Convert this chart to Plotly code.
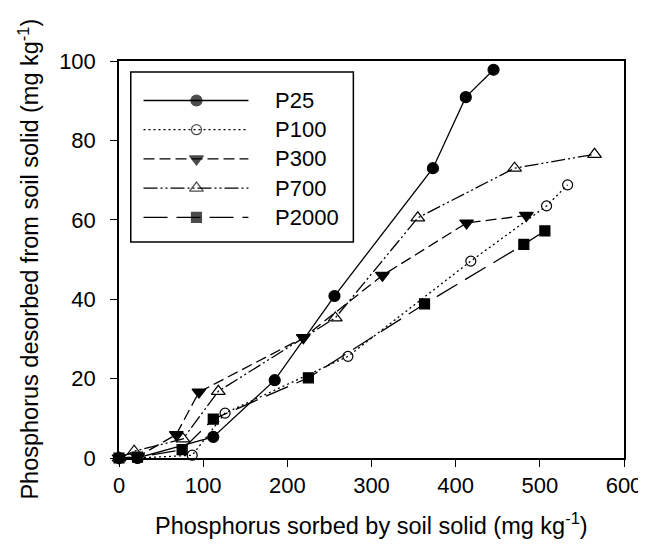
import plotly.graph_objects as go

# ---- Data ----
p25_x = [0, 22, 112, 185, 256, 373, 412, 445]
p25_y = [0, 0, 5.3, 19.6, 40.8, 73.0, 90.9, 97.8]

p100_x = [0, 22, 87, 126, 272, 418, 508, 533]
p100_y = [0, 0, 0.7, 11.3, 25.6, 49.6, 63.5, 68.8]

p300_x = [0, 22, 68, 95, 219, 313, 413, 484]
p300_y = [0, 0.3, 5.9, 16.6, 30.3, 46.0, 59.2, 61.1]

p700_x = [0, 18, 76, 118, 257, 355, 470, 565]
p700_y = [0, 1.7, 4.8, 16.8, 35.3, 60.5, 73.0, 76.5]

p2000_x = [0, 22, 75, 112, 225, 363, 481, 506]
p2000_y = [0, 0.2, 2.1, 9.8, 20.2, 38.8, 53.8, 57.2]

series_names = ["P25", "P100", "P300", "P700", "P2000"]
x_ticks = [0, 100, 200, 300, 400, 500, 600]
y_ticks = [0, 20, 40, 60, 80, 100]

# ---- Styles ----
FONT = "Liberation Sans, Arial, sans-serif"
W, H = 646, 547
ML, MR, MT, MB = 111, 20, 53, 97
PW, PH = W - ML - MR, H - MT - MB

styles = {
    "P25":   dict(dash="solid", symbol="circle", size=11),
    "P100":  dict(dash="2px,3px", symbol="circle-open", size=10),
    "P300":  dict(dash="11px,5px", symbol="triangle-down", size=12),
    "P700":  dict(dash="14px,3px,2px,3px,2px,3px", symbol="triangle-up-open", size=12),
    "P2000": dict(dash="24px,9px", symbol="square", size=10),
}
data = {
    "P25": (p25_x, p25_y),
    "P100": (p100_x, p100_y),
    "P300": (p300_x, p300_y),
    "P700": (p700_x, p700_y),
    "P2000": (p2000_x, p2000_y),
}

fig = go.Figure()
for name in series_names:
    xs, ys = data[name]
    st = styles[name]
    fig.add_trace(go.Scatter(
        x=xs, y=ys, name=name, mode="lines+markers", showlegend=False,
        line=dict(color="black", width=1.3, dash=st["dash"]),
        marker=dict(symbol=st["symbol"], size=st["size"], color="black",
                    line=dict(color="black", width=1.2)),
        cliponaxis=False,
    ))

# ---- Custom legend (layout positions in plot-area pixels, via hidden overlay axes) ----
LEG_BOX = (12, 11, 239, 181)      # left, top, right, bottom
LEG_ROW0, LEG_STEP = 39.5, 29.2
LEG_LINE = (25, 79, 132)          # line start, marker, line end
LEG_TEXT_X = 157

annotations = []
for i, name in enumerate(series_names):
    st = styles[name]
    ry = LEG_ROW0 + i * LEG_STEP
    fig.add_trace(go.Scatter(
        x=list(LEG_LINE), y=[ry] * 3, xaxis="x2", yaxis="y2",
        mode="lines+markers", showlegend=False, hoverinfo="skip",
        line=dict(color="black", width=1.3, dash=st["dash"]),
        marker=dict(symbol=st["symbol"], size=[0, st["size"], 0], color="black",
                    line=dict(color="black", width=1.2)),
        cliponaxis=False,
    ))
    annotations.append(dict(
        text=name, xref="x2", yref="y2", x=LEG_TEXT_X, y=ry,
        xanchor="left", yanchor="middle", showarrow=False,
        font=dict(family=FONT, size=22, color="black"),
    ))

axis_common = dict(
    showline=True, linecolor="black", linewidth=1.5, mirror=True,
    ticks="outside", ticklen=7, tickwidth=1.3, tickcolor="black",
    showgrid=False, zeroline=False,
    tickfont=dict(family=FONT, size=22, color="black"),
)

fig.update_layout(
    xaxis=dict(range=[0, 600], tickvals=x_ticks, **axis_common),
    yaxis=dict(range=[0, 100], tickvals=y_ticks, ticklabelstandoff=10, **axis_common),
    xaxis2=dict(overlaying="x", range=[0, PW], visible=False, fixedrange=True),
    yaxis2=dict(overlaying="y", range=[PH, 0], visible=False, fixedrange=True),
    width=W, height=H,
    margin=dict(l=ML, r=MR, t=MT, b=MB),
    paper_bgcolor="white", plot_bgcolor="white",
    font=dict(family=FONT, size=22, color="black"),
    showlegend=False,
    shapes=[dict(type="rect", xref="x2", yref="y2",
                 x0=LEG_BOX[0], y0=LEG_BOX[1], x1=LEG_BOX[2], y1=LEG_BOX[3],
                 line=dict(color="black", width=1.5), fillcolor="rgba(0,0,0,0)",
                 layer="above")],
    annotations=annotations + [
        dict(text="Phosphorus sorbed by soil solid (mg kg<sup>-1</sup>)",
             xref="paper", yref="paper", x=0.5, y=-0.165,
             xanchor="center", yanchor="middle", showarrow=False,
             font=dict(family=FONT, size=23.5)),
        dict(text="Phosphorus desorbed from soil solid (mg kg<sup>-1</sup>)",
             xref="paper", yref="paper", x=-0.18, y=0.5,
             xanchor="center", yanchor="middle", showarrow=False, textangle=-90,
             font=dict(family=FONT, size=23.5)),
    ],
)

fig.write_html("out.html")
